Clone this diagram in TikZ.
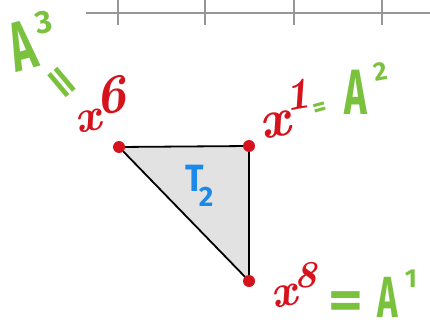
\documentclass[tikz,border=0pt]{standalone}
\usepackage{fontspec}
\setsansfont{Fira Sans}
\definecolor{hred}{RGB}{214,18,28}
\definecolor{hgreen}{RGB}{122,194,62}
\definecolor{hblue}{RGB}{28,138,234}
\definecolor{tgray}{RGB}{226,226,226}
\definecolor{agray}{RGB}{150,150,150}
\newcommand{\fs}[1]{\fontsize{#1}{#1}\selectfont}
\begin{document}
\begin{tikzpicture}[x=1pt,y=-1pt,
  axisline/.style={draw=agray,line width=2pt},
  vdot/.style={circle,fill=hred,inner sep=0pt,minimum size=12pt},
  rlab/.style={text=hred,inner sep=0pt},
  glab/.style={text=hgreen,inner sep=0pt},
  blab/.style={text=hblue,inner sep=0pt}]
\useasboundingbox (0,0) rectangle (430,326);
% axis
\coordinate (axL) at (86,13);
\coordinate (axR) at (430,13);
\draw[axisline] (axL) -- (axR);
\foreach \t in {118,205,294,382}{
  \coordinate (tt\t) at (\t,0);
  \coordinate (tb\t) at (\t,25);
  \draw[axisline] (tt\t) -- (tb\t);
}
% triangle
\coordinate (v6) at (119,147);
\coordinate (v1) at (249,146);
\coordinate (v8) at (249,281);
\filldraw[fill=tgray,draw=black,line width=1.8pt,line join=round] (v6) -- (v1) -- (v8) -- cycle;
\node[vdot] (d6) at (v6) {};
\node[vdot] (d1) at (v1) {};
\node[vdot] (d8) at (v8) {};
% T2
\node[blab,font=\sffamily\bfseries\fs{38},xscale=0.9] (tT) at (195,178) {T};
\node[blab,font=\sffamily\bfseries\fs{28}] (t2) at (206,197) {2};
% x^6 and A^3
\node[rlab,font=\bfseries\itshape\fs{46},rotate=10] (x6) at (88,121) {x};
\node[rlab,font=\bfseries\itshape\fs{54},rotate=10] (s6) at (110,96) {6};
\node[glab,font=\sffamily\bfseries\fs{70},rotate=15,xscale=0.6] (A3) at (22,46) {A};
\node[glab,font=\sffamily\bfseries\fs{32},rotate=10] (s3) at (44,22) {3};
\node[glab,font=\sffamily\bfseries\fs{40},rotate=-50,xscale=1.7] (e3) at (59,85) {=};
% x^1 = A^2
\node[rlab,font=\bfseries\itshape\fs{54},rotate=10] (x1) at (275,125) {x};
\node[rlab,font=\bfseries\itshape\fs{44},rotate=10] (s1) at (297,95) {1};
\node[glab,font=\sffamily\bfseries\fs{26},rotate=15] (e1) at (320,110) {=};
\node[glab,font=\sffamily\bfseries\fs{64},xscale=0.6] (A2) at (356,92) {A};
\node[glab,font=\sffamily\bfseries\fs{26},rotate=10] (s2) at (381,71) {2};
% x^8 = A^1
\node[rlab,font=\bfseries\itshape\fs{46},rotate=10] (x8) at (284,296) {x};
\node[rlab,font=\bfseries\itshape\fs{38}] (s8) at (306,275) {8};
\node[glab,font=\sffamily\bfseries\fs{56},xscale=1.2] (e8) at (346,306) {=};
\node[glab,font=\sffamily\bfseries\fs{58},xscale=0.6] (A1) at (388,297) {A};
\node[glab,font=\sffamily\bfseries\fs{26}] (s1b) at (411,279) {1};
\end{tikzpicture}
\end{document}
